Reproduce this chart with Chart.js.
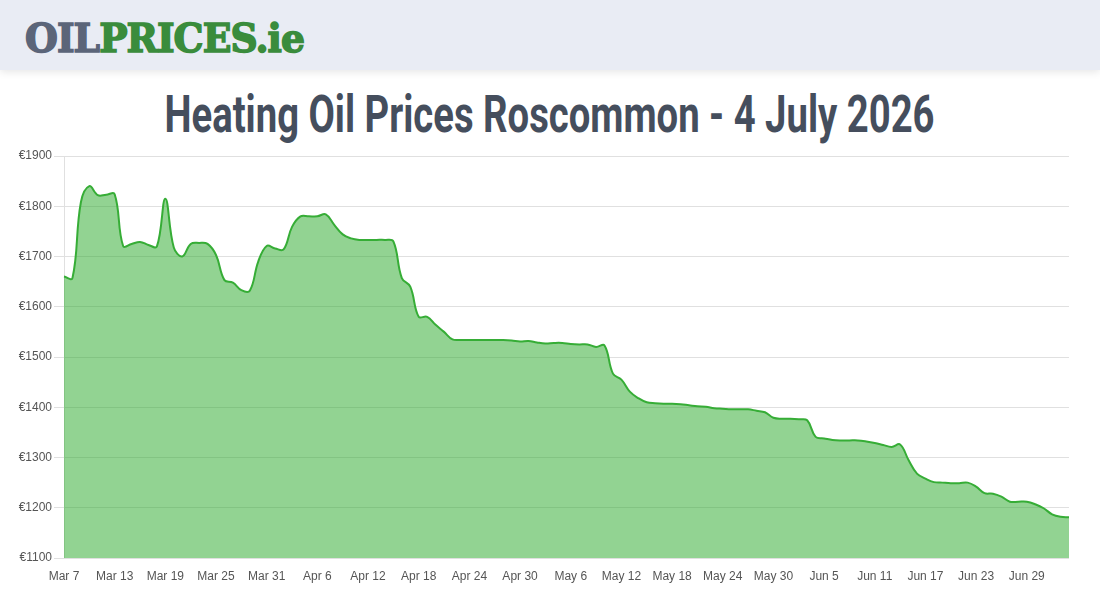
<!DOCTYPE html>
<html>
<head>
<meta charset="utf-8">
<script src="https://cdn.jsdelivr.net/npm/chart.js@4.4.1/dist/chart.umd.min.js"></script>
<style>
  html, body { margin:0; padding:0; background:#fff; width:1100px; height:600px; overflow:hidden; }
  #header { position:absolute; left:0; top:0; width:1100px; height:70px; background:#e9ecf4; box-shadow:0 2px 8px rgba(0,0,0,0.10); z-index:2; }
  #logo { position:absolute; left:25px; top:18px; font-family:"DejaVu Serif", serif; font-weight:bold; font-size:40px; line-height:40px; white-space:nowrap; transform-origin:0 50%; display:inline-block; letter-spacing:-1px; }
  #logo .a { color:#5b6579; -webkit-text-stroke:1.6px #5b6579; }
  #logo .b { color:#3a8c3c; -webkit-text-stroke:1.6px #3a8c3c; }
  #titleWrap { position:absolute; left:0; top:89px; width:1100px; text-align:center; }
  #title { display:inline-block; font-family:Roboto, sans-serif; font-weight:700; font-size:52px; line-height:52px; color:#454e5d; white-space:nowrap; transform-origin:50% 50%; }
  #chartBox { position:absolute; left:0; top:140px; width:1100px; height:460px; }
</style>
</head>
<body>
<div id="header"><span id="logo"><span class="a">OIL</span><span class="b">PRICES.ie</span></span></div>
<div id="titleWrap"><span id="title">Heating Oil Prices Roscommon - 4 July 2026</span></div>
<div id="chartBox"><canvas id="c"></canvas></div>
<script>
// Daily categories: 7 March to 4 July
const startMonth = 2, startDay = 7, dayCount = 120;
const monthNames = ["Jan","Feb","Mar","Apr","May","Jun","Jul","Aug","Sep","Oct","Nov","Dec"];
const categories = [];
for (let i = 0; i < dayCount; i++) {
  const d = new Date(2026, startMonth, startDay + i);
  categories.push(monthNames[d.getMonth()] + " " + d.getDate());
}
// Price in euro, one per day
const prices = [
  1660,1657,1808,1840,1822,1823,1824,1721,1725,1729,
  1723,1720,1815,1718,1700,1725,1727,1725,1703,1653,
  1648,1633,1632,1690,1721,1716,1714,1759,1780,1780,
  1780,1784,1763,1744,1736,1733,1733,1733,1733,1730,
  1657,1640,1580,1580,1564,1550,1535,1534,1534,1534,
  1534,1534,1534,1533,1531,1532,1529,1527,1528,1528,
  1526,1525,1525,1520,1523,1467,1455,1431,1418,1410,
  1408,1407,1407,1406,1404,1402,1401,1398,1397,1396,
  1396,1396,1393,1390,1379,1377,1377,1376,1374,1341,
  1338,1335,1334,1334,1334,1332,1329,1325,1321,1326,
  1295,1268,1258,1251,1250,1249,1249,1250,1242,1229,
  1228,1222,1212,1212,1212,1207,1199,1187,1182,1181
];
const tickEvery = 6;
const yMin = 1100, yMax = 1900, yStep = 100;

// fit header texts
const logo = document.getElementById('logo');
logo.style.transform = 'scaleX(' + (279 / logo.getBoundingClientRect().width) + ')';
const title = document.getElementById('title');
title.style.transform = 'scaleX(' + (770 / title.getBoundingClientRect().width) + ')';

new Chart(document.getElementById('c'), {
  type: 'line',
  data: {
    labels: categories,
    datasets: [{
      data: prices,
      borderColor: '#36ad36',
      borderWidth: 2,
      backgroundColor: 'rgba(38,168,38,0.5)',
      fill: 'origin',
      tension: 0.4,
      pointRadius: 0,
      pointHoverRadius: 0
    }]
  },
  options: {
    responsive: true,
    maintainAspectRatio: false,
    animation: false,
    layout: { padding: { top: 16, right: 31, bottom: 0, left: 0 } },
    plugins: { legend: { display: false }, tooltip: { enabled: false } },
    scales: {
      x: {
        grid: { display: false },
        border: { display: false },
        ticks: {
          autoSkip: false, maxRotation: 0, minRotation: 0, padding: 3,
          color: '#555', font: { size: 12, family: 'Arial, "Liberation Sans", sans-serif' },
          callback: function(v, i) { return i % tickEvery === 0 ? categories[i] : ''; }
        },
        afterFit: function(s) { s.height = 42; }
      },
      y: {
        min: yMin, max: yMax,
        grid: { color: 'rgba(0,0,0,0.12)', tickLength: 10 },
        border: { color: 'rgba(0,0,0,0.12)' },
        ticks: {
          stepSize: yStep, padding: 2,
          color: '#555', font: { size: 12, family: 'Arial, "Liberation Sans", sans-serif' },
          callback: function(v) { return '€' + v; }
        },
        afterFit: function(s) { s.width = 64; }
      }
    }
  }
});
</script>
</body>
</html>
